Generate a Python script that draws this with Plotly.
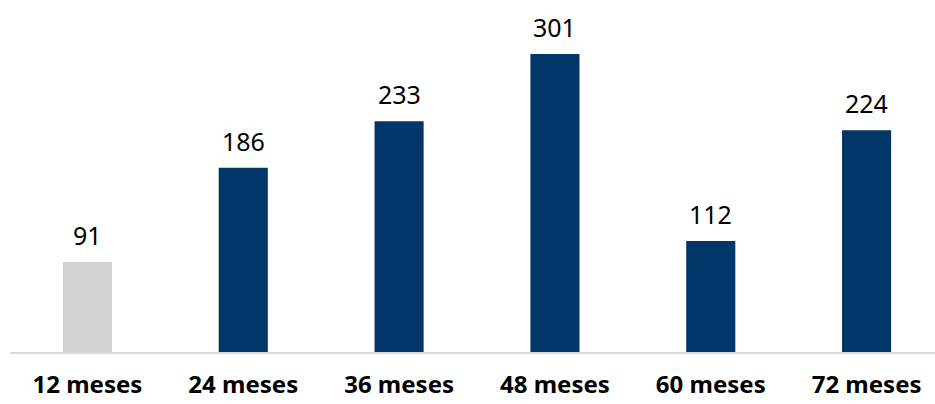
import plotly.graph_objects as go

categories = ["12 meses", "24 meses", "36 meses", "48 meses", "60 meses", "72 meses"]
values = [91, 186, 233, 301, 112, 224]
colors = ["#d3d3d3", "#003768", "#003768", "#003768", "#003768", "#003768"]

x_pos = list(range(len(categories)))

fig = go.Figure()
fig.add_trace(go.Bar(
    x=x_pos, y=values, marker_color=colors, width=0.315,
    marker_line_width=0, hoverinfo="skip"
))

for xi, v in zip(x_pos, values):
    fig.add_annotation(x=xi, y=v, text=str(v), showarrow=False,
                       yanchor="bottom", yshift=8,
                       font=dict(family="Noto Sans", size=25, color="#000000"))

fig.update_layout(
    width=935, height=404,
    margin=dict(l=10, r=0, t=0, b=52),
    paper_bgcolor="white", plot_bgcolor="white",
    showlegend=False,
    font=dict(family="Noto Sans", size=24, color="#000000"),
)
fig.update_xaxes(
    tickmode="array", tickvals=x_pos,
    ticktext=[f"<b>{c}</b>" for c in categories],
    range=[-0.497, 5.439],
    showline=True, linecolor="#d9d9d9", linewidth=2,
    showgrid=False, zeroline=False, ticks="",
    ticklabelstandoff=10,
    tickfont=dict(family="Noto Sans", size=24, color="#000000"),
)
fig.update_yaxes(range=[0, 355.5], visible=False, showgrid=False, zeroline=False)

fig.write_html("out.html")
